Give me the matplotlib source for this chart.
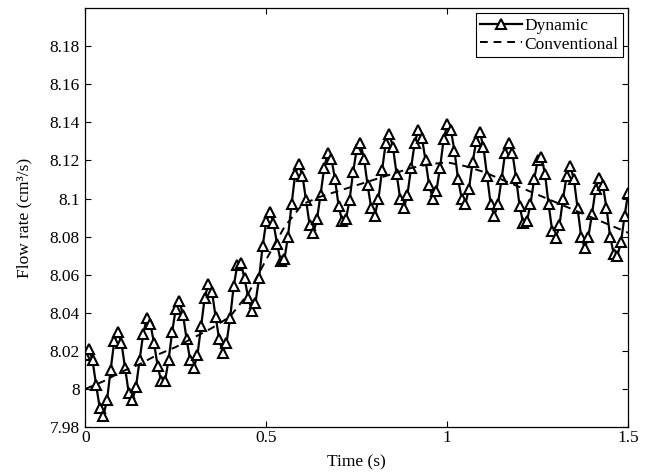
import numpy as np
import matplotlib
matplotlib.use('Agg')
import matplotlib.pyplot as plt

plt.rcParams['font.family'] = ['Liberation Serif', 'DejaVu Serif']
plt.rcParams['font.size'] = 12.5

# dynamic flow rate, sampled every 0.01 s from 0 to 1.5 s
t_dyn = [i / 100 for i in range(151)]
q_dyn = [8.018, 8.021, 8.015, 8.002, 7.990, 7.986, 7.994, 8.010, 8.025, 8.030,
         8.024, 8.011, 7.998, 7.994, 8.001, 8.015, 8.029, 8.037, 8.034, 8.024,
         8.012, 8.004, 8.004, 8.015, 8.030, 8.042, 8.046, 8.039, 8.026, 8.015,
         8.011, 8.018, 8.033, 8.048, 8.055, 8.051, 8.038, 8.026, 8.019, 8.024,
         8.037, 8.054, 8.065, 8.066, 8.058, 8.048, 8.041, 8.045, 8.058, 8.075,
         8.088, 8.093, 8.087, 8.076, 8.067, 8.068, 8.080, 8.097, 8.113, 8.118,
         8.112, 8.099, 8.086, 8.082, 8.089, 8.102, 8.116, 8.124, 8.121, 8.110,
         8.096, 8.088, 8.089, 8.099, 8.114, 8.126, 8.129, 8.121, 8.107, 8.095,
         8.091, 8.100, 8.115, 8.129, 8.134, 8.127, 8.113, 8.100, 8.095, 8.102,
         8.116, 8.129, 8.136, 8.132, 8.120, 8.107, 8.100, 8.104, 8.116, 8.131,
         8.139, 8.136, 8.125, 8.110, 8.100, 8.097, 8.105, 8.119, 8.130, 8.135,
         8.127, 8.112, 8.097, 8.091, 8.097, 8.110, 8.124, 8.129, 8.124, 8.111,
         8.096, 8.087, 8.088, 8.097, 8.110, 8.120, 8.122, 8.113, 8.097, 8.083,
         8.079, 8.086, 8.100, 8.112, 8.117, 8.110, 8.095, 8.080, 8.074, 8.080,
         8.092, 8.105, 8.111, 8.107, 8.095, 8.080, 8.071, 8.070, 8.077, 8.091,
         8.103]

# conventional flow rate, every 0.05 s
t_conv = [i * 0.05 for i in range(31)]
q_conv = [8.000, 8.004, 8.009, 8.013, 8.018, 8.022, 8.027, 8.032, 8.038, 8.050,
          8.068, 8.085, 8.097, 8.101, 8.104, 8.107, 8.110, 8.113, 8.116, 8.118,
          8.119, 8.117, 8.114, 8.110, 8.106, 8.102, 8.098, 8.094, 8.090, 8.086,
          8.082]

xticks = [0, 0.5, 1, 1.5]
xlabels = ['0', '0.5', '1', '1.5']
yticks = [7.98, 8.0, 8.02, 8.04, 8.06, 8.08, 8.1, 8.12, 8.14, 8.16, 8.18]
ylabels = ['7.98', '8', '8.02', '8.04', '8.06', '8.08', '8.1', '8.12', '8.14', '8.16', '8.18']

fig = plt.figure(figsize=(6.51, 4.75), dpi=100)
ax = fig.add_axes([0.131, 0.101, 0.834, 0.882])

ax.plot(t_dyn, q_dyn, 'k-', lw=1.6, marker='^', ms=6.5, mfc='white', mec='black',
        mew=1.5, label='Dynamic')
ax.plot(t_conv, q_conv, 'k--', lw=1.4, dashes=(4, 3), label='Conventional')

ax.set_xlim(0, 1.5)
ax.set_ylim(7.98, 8.2)
ax.set_xticks(xticks)
ax.set_xticklabels(xlabels)
ax.set_yticks(yticks)
ax.set_yticklabels(ylabels)
ax.tick_params(direction='in', top=True, right=True, length=4, width=0.8)
ax.tick_params(axis='y', pad=4)
ax.tick_params(axis='x', pad=2)
for s in ax.spines.values():
    s.set_linewidth(0.9)

ax.set_xlabel('Time (s)', labelpad=6)
ax.set_ylabel('Flow rate (cm³/s)', labelpad=12)

leg = ax.legend(loc='upper right', numpoints=1, fancybox=False, edgecolor='black',
                framealpha=1, borderaxespad=0.3, handlelength=2.4, handletextpad=0.15,
                borderpad=0.25, labelspacing=0.15)
leg.get_frame().set_linewidth(0.8)

fig.savefig('out.png', dpi=100)
